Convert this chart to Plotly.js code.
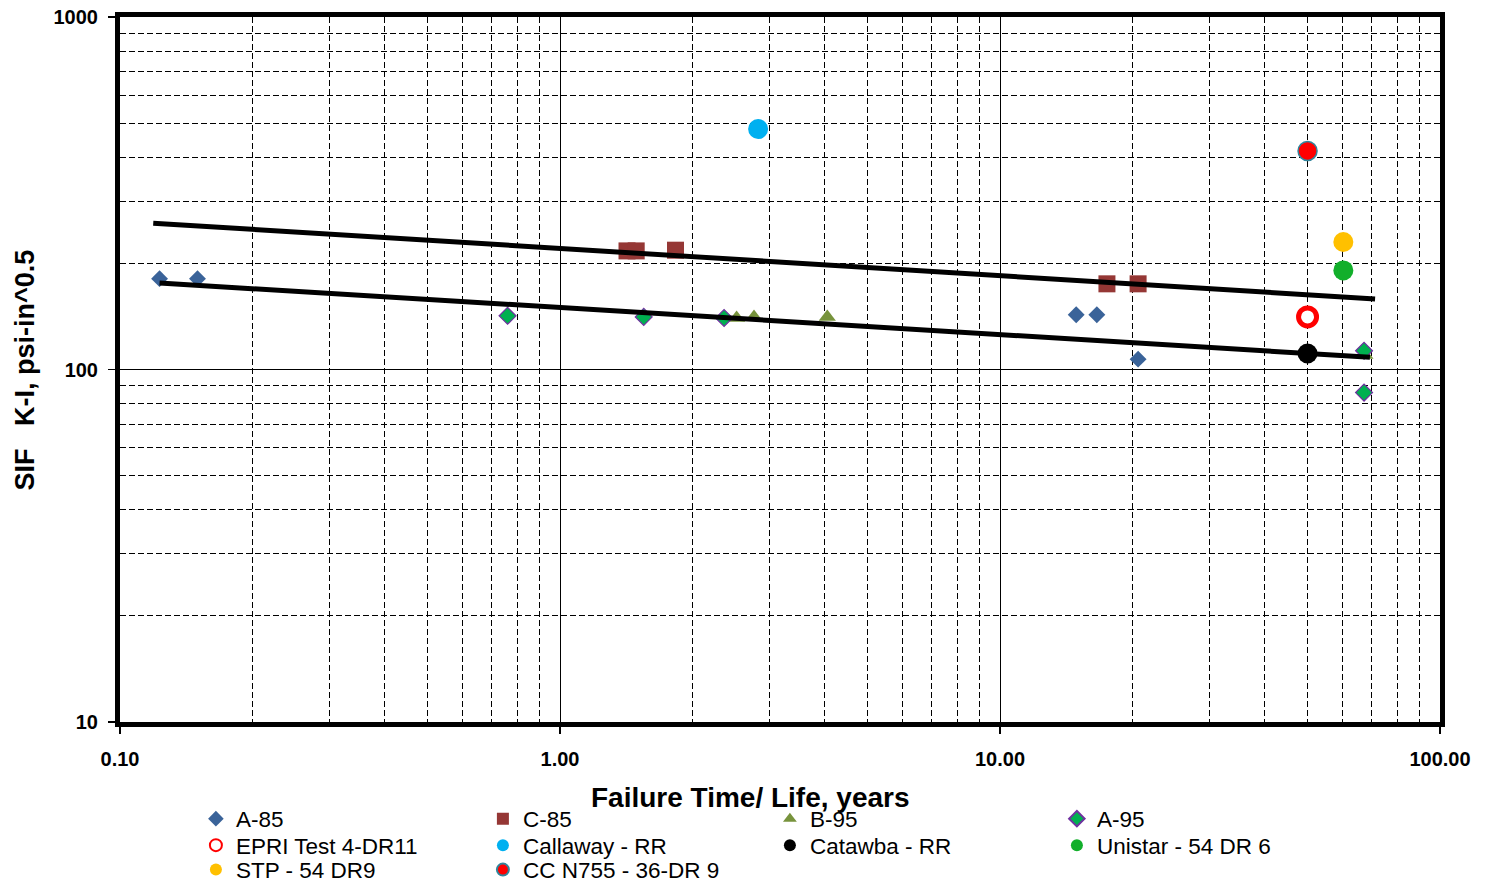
<!DOCTYPE html>
<html>
<head>
<meta charset="utf-8">
<script src="https://cdn.plot.ly/plotly-3.0.1.min.js"></script>
<style>html,body{margin:0;padding:0;background:#fff;}#chart{width:1487px;height:882px;}</style>
</head>
<body>
<div id="chart"></div>
<script>
// ---- data ----
const a85X = [0.123, 0.150, 14.9, 16.6, 20.6];
const a85Y = [181, 181, 143, 143, 107];
const c85X = [1.42, 1.49, 1.83, 17.5, 20.6];
const c85Y = [217, 217, 218, 175, 175];
const b95X = [2.52, 2.76, 4.05, 67.5];
const b95Y = [140, 141, 141, 110];
const a95X = [0.76, 1.55, 2.36, 67.2, 67.2];
const a95Y = [142, 141, 140, 113, 86];
const epriX = [50]; const epriY = [141];
const callawayX = [2.82]; const callawayY = [481];
const catawbaX = [50]; const catawbaY = [111];
const unistarX = [60.3]; const unistarY = [191];
const stpX = [60.3]; const stpY = [230];
const ccX = [50]; const ccY = [417];
const upperFitX = [0.119, 71.2]; const upperFitY = [260, 158.5];
const lowerFitX = [0.123, 69.3]; const lowerFitY = [176, 108.3];

const xTitle = 'Failure Time/ Life, years';
const yTitle = 'SIF\u00a0\u00a0\u00a0K-I, psi-in^0.5';

const FONT = 'Liberation Sans, Arial, sans-serif';

function pts(name, x, y, marker, legend) {
  return {type: 'scatter', mode: 'markers', name: name, x: x, y: y, marker: marker,
          cliponaxis: false, legend: legend};
}

const traces = [
  pts('A-85', a85X, a85Y, {symbol: 'diamond', size: 13, color: '#3A6399', line: {width: 0}}, 'legend'),
  pts('C-85', c85X, c85Y, {symbol: 'square', size: 17, color: '#953735', line: {width: 0}}, 'legend'),
  pts('B-95', b95X, b95Y, {symbol: 'triangle-up', size: 15, color: '#77933C', line: {width: 0}}, 'legend'),
  pts('A-95', a95X, a95Y, {symbol: 'diamond', size: 13, color: '#00B050', line: {width: 1.2, color: '#7030A0'}}, 'legend'),
  pts('EPRI Test 4-DR11', epriX, epriY, {symbol: 'circle', size: 18, color: '#FFFFFF', line: {width: 5, color: '#FF0000'}}, 'legend2'),
  pts('Callaway - RR', callawayX, callawayY, {symbol: 'circle', size: 20, color: '#00B0F0', line: {width: 0}}, 'legend2'),
  pts('Catawba - RR', catawbaX, catawbaY, {symbol: 'circle', size: 20, color: '#000000', line: {width: 0}}, 'legend2'),
  pts('Unistar - 54 DR 6', unistarX, unistarY, {symbol: 'circle', size: 20, color: '#12AF2B', line: {width: 0}}, 'legend2'),
  pts('STP - 54 DR9', stpX, stpY, {symbol: 'circle', size: 20, color: '#FFC000', line: {width: 0}}, 'legend3'),
  pts('CC N755 - 36-DR 9', ccX, ccY, {symbol: 'circle', size: 19, color: '#FF0000', line: {width: 1.5, color: '#31859C'}}, 'legend3'),
  {type: 'scatter', mode: 'lines', x: upperFitX, y: upperFitY, showlegend: false, hoverinfo: 'skip',
   line: {color: '#000', width: 5}},
  {type: 'scatter', mode: 'lines', x: lowerFitX, y: lowerFitY, showlegend: false, hoverinfo: 'skip',
   line: {color: '#000', width: 5}}
];

const axisCommon = {
  type: 'log',
  showline: true, mirror: true, linewidth: 5, linecolor: '#000',
  showgrid: true, gridcolor: '#000', gridwidth: 1,
  ticks: 'outside', ticklen: 7, tickwidth: 1.5, tickcolor: '#000',
  dtick: 1, tick0: 0,
  tickfont: {family: FONT, size: 20, color: '#000', weight: 'bold'},
  minor: {dtick: 'D1', showgrid: true, gridcolor: '#000', gridwidth: 1, griddash: '6px,3px', ticks: ''},
  zeroline: false
};

function legendRow(y) {
  return {
    orientation: 'h', x: 0.0575, xanchor: 'left', y: y, yanchor: 'top',
    entrywidth: 242, entrywidthmode: 'pixels', itemsizing: 'constant',
    font: {family: FONT, size: 22.5, color: '#000'},
    bgcolor: 'rgba(0,0,0,0)', borderwidth: 0, traceorder: 'normal'
  };
}

const layout = {
  width: 1487, height: 882,
  margin: {l: 120, r: 47, t: 17, b: 160, autoexpand: false},
  paper_bgcolor: '#fff', plot_bgcolor: '#fff',
  font: {family: FONT, color: '#000'},
  xaxis: Object.assign({}, axisCommon, {range: [-1, 2], tickformat: '.2f', ticklabelstandoff: 8}),
  yaxis: Object.assign({}, axisCommon, {range: [1, 3], tickformat: 'd', ticklabelstandoff: 6}),
  showlegend: true,
  legend: legendRow(-0.1071),
  legend2: legendRow(-0.1447),
  legend3: legendRow(-0.1794),
  annotations: [
    {text: xTitle, xref: 'paper', yref: 'paper', x: 0.478, y: -0.1064, xanchor: 'center', yanchor: 'middle',
     showarrow: false, font: {family: FONT, size: 28, color: '#000', weight: 'bold'}},
    {text: yTitle, xref: 'paper', yref: 'paper', x: -0.072, y: 0.5, xanchor: 'center', yanchor: 'middle',
     textangle: -90, showarrow: false, font: {family: FONT, size: 27, color: '#000', weight: 'bold'}}
  ]
};

Plotly.newPlot('chart', traces, layout, {displayModeBar: false, staticPlot: true});
</script>
</body>
</html>
